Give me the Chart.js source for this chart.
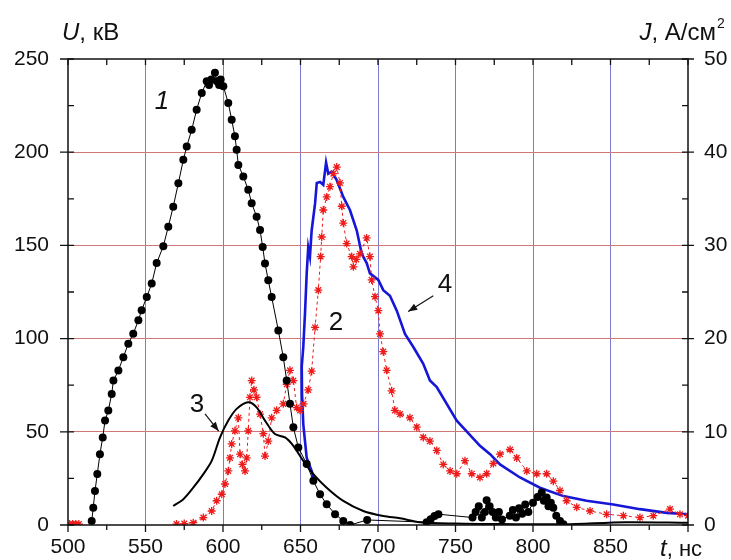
<!DOCTYPE html>
<html>
<head>
<meta charset="utf-8">
<script src="https://cdn.jsdelivr.net/npm/chart.js@4.4.1/dist/chart.umd.min.js"></script>
<style>
  html, body { margin: 0; padding: 0; background: #fff; }
  #wrap { width: 731px; height: 560px; position: relative; }
</style>
</head>
<body>
<div id="wrap"><canvas id="chart"></canvas></div>
<script>
// curve 1: voltage U, kV (black dots)
const t1 = [515.3, 516.3, 517.4, 518.9, 520.6, 522.4, 523.9, 526, 528.2, 529.3, 532.5, 535.7, 538.9, 542.1,
  545.4, 547.5, 550.8, 554, 557.2, 561.5, 564.7, 567.9, 571.2, 574.4, 576.6, 579.8, 583, 586.3, 589.5, 591,
  592.5, 594.8, 596, 597.5, 598.5, 600.2, 603.4, 605.6, 607.7, 608.8, 609.9, 613.1, 616.3, 618.5, 621.7,
  623.9, 625.6, 627.1, 629.2, 631.4, 635.7, 638.9, 641.1, 643.2, 645.4, 648.6, 654, 658.3, 662.6, 666.9,
  672.3, 677.6, 682, 693, 731.4, 734, 736.5, 739, 761, 763, 765, 767, 769, 770.1, 772, 774, 776, 778, 780,
  785, 787, 789, 791, 793, 795, 797, 800, 803, 805.6, 807, 808.8, 810, 811.5, 813.1, 815, 817.4, 819.6];
const U1 = [2.2, 9.3, 18.3, 27.3, 38, 47, 56, 61.4, 70.3, 77.5, 82.9, 90, 97.3, 102.6,
  109.8, 115.2, 122.3, 129.5, 140.5, 149.6, 160, 170.8, 183.4, 195.9, 203, 212, 222.8, 231.8, 238, 236,
  239, 242.6, 238, 236, 239, 235.4, 226.4, 217.4, 208.5, 201.3, 193.2, 187, 179.8, 172.6, 165.4,
  158.2, 149.2, 140.3, 131.3, 122.3, 104.4, 90, 77.5, 65, 52.4, 41.6, 32.7, 23.7, 16.5, 11.1,
  5.8, 2.2, 0, 2.7, 1.5, 3.1, 4.8, 5.8, 4, 7, 10, 4, 7, 13.3, 10, 7, 4, 7, 3,
  5, 8, 4, 9, 6, 11, 7, 12, 15, 17.4, 13, 14.7, 10, 12, 9.3, 5, 2.2, 0.4];

// curve 2: current density J, A/cm2 (red stars)
const t2start = [501, 503, 505, 507];
const J2start = [0.1, 0.1, 0.1, 0.1];
const t2 = [570, 575, 580.8, 587.3, 592.7, 595.9, 599.2, 601.3, 603.4, 604.5, 605.6, 607.7, 609.9, 611,
  612.5, 614.2, 615.3, 616.3, 617.4, 618.5, 620, 621.7, 623.9, 626, 627.1, 629.2, 631.4, 634.6, 638.9,
  641.1, 643.2, 645.4, 647.5, 649.7, 652, 655, 657.2, 659.4, 661.5, 663, 663.7, 664.7, 666.9, 669, 671.2,
  673.4, 675.5, 676.6, 677.6, 679.8, 683, 684.1, 686, 688.4, 692.7, 694.8, 695.9, 698.1, 700.2, 701.3,
  703.4, 705.6, 708.8, 710.9, 714.2, 720.6, 725, 729.2, 733.5, 737.9, 742.1, 746.5, 750.8, 756.1, 760.5,
  765.8, 770.1, 774.4, 778.7, 785.2, 789.5, 796, 802.4, 808.8, 813.1, 817.4, 821.7, 828.2, 836.8, 847.5,
  858.3, 869, 877.6, 888.4, 894.8, 900];
const J2 = [0.1, 0.15, 0.25, 0.8, 1.5, 2.6, 3.3, 4.4, 5.8, 7.2, 8.7, 10.1, 11.5, 7.6,
  6.5, 5.8, 7.2, 10.1, 13.7, 15.5, 14.5, 13.7, 11.9, 9.8, 7.4, 9.0, 11.5, 12.3, 13,
  15.1, 16.6, 15.5, 12.6, 12.3, 13, 14.5, 16.5, 21.2, 25.2, 28.8, 30.9, 33.8, 35.2, 36.3, 37.7,
  38.4, 36.7, 34.2, 32.4, 30.2, 28.8, 27.7, 28.5, 29.1, 30.8, 28.8, 26.3, 24.5, 23, 20.5,
  18.6, 16.6, 14.4, 12.3, 11.9, 11.5, 10.5, 9.4, 9.0, 8.0, 6.5, 5.8, 5.5, 6.9, 5.5,
  5.1, 5.5, 6.6, 7.6, 8.1, 7.2, 5.8, 5.5, 5.5, 4.7, 3.7, 2.6, 1.9, 1.5, 1.15,
  1.0, 0.8, 1.0, 1.7, 1.15, 1.0];

// curve 3: black line (kV scale)
const t3 = [567.9, 574.4, 580.8, 587.3, 592.7, 598.1, 603.4, 608.8, 616.3, 621.7, 627.1, 633.5, 640, 645.4,
  651.8, 658.3, 666.9, 677.6, 690.5, 703.4, 714.2, 727, 750, 780, 820, 860, 900];
const U3 = [10.2, 13.8, 20, 27.3, 34.4, 47, 56, 62.3, 65.8, 63.1, 56, 48.8, 47, 42.5,
  34.4, 27.3, 20, 12.9, 7.5, 4.8, 3.6, 1.5, 0.8, 0.5, 0.4, 1.5, 1.2];

// curve 4: blue line (A/cm2 scale)
const t4 = [659.5, 657.2, 654, 651.8, 651, 650.8, 651.8, 652.9, 654, 655, 656.1, 657.2, 659.4, 660.5,
  662.6, 664.7, 666.5, 667.9, 670.1, 673.4, 677.6, 681.9, 686.3, 689.5, 692.7, 694.8, 700.2, 703.4, 707.7,
  712.1, 717.4, 722.8, 729.2, 733.5, 737.9, 750.8, 765.8, 772.3, 778.7, 791.6, 804.5, 819.6, 834.6, 851.8,
  869, 886.3, 900];
const J4 = [4.5, 5.8, 7.2, 10.8, 14, 17, 19.1, 22.7, 27, 29.8, 28.8, 31.6, 34.5, 36.7,
  36.8, 36.5, 38.9, 37.7, 37.9, 37, 35.2, 33.8, 31.6, 29.1, 28.1, 27, 26.3, 25.2, 24.6,
  23, 20.5, 19.1, 17.3, 15.5, 14.8, 11.2, 8.5, 7.6, 6.5, 5.1, 4.0, 3.1, 2.6, 2.2,
  1.7, 1.3, 1.15];

// tick labels
const xTicks = [500, 550, 600, 650, 700, 750, 800, 850];
const uTicks = [0, 50, 100, 150, 200, 250];
const jTicks = [0, 10, 20, 30, 40, 50];

const pts = (xs, ys) => xs.map((x, i) => ({x: x, y: ys[i]}));

const FONT = "'Liberation Sans', Arial, sans-serif";
Chart.defaults.font.family = FONT;
Chart.defaults.color = '#111';

// curve numbers and arrows, in data units
const notes = [
  {text: '1', x: 560.6, y: 227, axis: 'y', italic: true},
  {text: '2', x: 672.9, y: 21.7, axis: 'y2'},
  {text: '3', x: 583.2, y: 64.6, axis: 'y'},
  {text: '4', x: 743.2, y: 25.8, axis: 'y2'}
];
const arrows = [
  {x1: 588.4, y1: 59.6, x2: 597.2, y2: 50.4, axis: 'y'},
  {x1: 735.7, y1: 24.6, x2: 719.5, y2: 22.9, axis: 'y2'}
];

const decor = {
  id: 'decor',
  afterDraw(chart) {
    const ctx = chart.ctx;
    const a = chart.chartArea;
    const xs = chart.scales.x, ys = chart.scales.y, ys2 = chart.scales.y2;
    ctx.save();
    ctx.strokeStyle = '#111';
    ctx.lineWidth = 1.5;
    ctx.strokeRect(a.left, a.top, a.right - a.left, a.bottom - a.top);
    ctx.lineWidth = 1.3;
    ctx.beginPath();
    for (let v = 500; v <= 900; v += 25) {
      const p = xs.getPixelForValue(v);
      const major = v % 50 === 0;
      ctx.moveTo(p, a.bottom); ctx.lineTo(p, a.bottom + (major ? 7 : 5));
      ctx.moveTo(p, a.top); ctx.lineTo(p, a.top + 6);
    }
    for (let v = 0; v <= 250; v += 25) {
      const p = ys.getPixelForValue(v);
      ctx.moveTo(a.left, p); ctx.lineTo(a.left + 6, p);
      if (v % 50 === 0) { ctx.moveTo(a.left, p); ctx.lineTo(a.left - 8, p); }
    }
    for (let v = 0; v <= 50; v += 5) {
      const p = ys2.getPixelForValue(v);
      ctx.moveTo(a.right, p); ctx.lineTo(a.right - 6, p);
      if (v % 10 === 0) { ctx.moveTo(a.right, p); ctx.lineTo(a.right + 6, p); }
    }
    ctx.stroke();

    // axis titles
    ctx.fillStyle = '#111';
    ctx.textBaseline = 'alphabetic';
    ctx.textAlign = 'left';
    ctx.font = 'italic 24px ' + FONT;
    ctx.fillText('U', 62, 40);
    let w = ctx.measureText('U').width;
    ctx.font = '24px ' + FONT;
    ctx.fillText(', кВ', 62 + w, 40);

    ctx.font = 'italic 24px ' + FONT;
    const jw = ctx.measureText('J').width;
    ctx.font = '24px ' + FONT;
    const rw = ctx.measureText(', А/см').width;
    let jx = 716 - jw - rw;
    ctx.font = 'italic 24px ' + FONT;
    ctx.fillText('J', jx, 40);
    ctx.font = '24px ' + FONT;
    ctx.fillText(', А/см', jx + jw, 40);
    ctx.font = '14px ' + FONT;
    ctx.fillText('2', jx + jw + rw + 1, 28);

    ctx.font = 'italic 24px ' + FONT;
    ctx.fillText('t', 660, 556);
    w = ctx.measureText('t').width;
    ctx.font = '22px ' + FONT;
    ctx.fillText(', нс', 660 + w, 556);

    // curve labels
    ctx.textAlign = 'center';
    ctx.textBaseline = 'middle';
    notes.forEach(n => {
      ctx.font = (n.italic ? 'italic ' : '') + '26px ' + FONT;
      ctx.fillText(n.text, xs.getPixelForValue(n.x), chart.scales[n.axis].getPixelForValue(n.y));
    });
    ctx.lineWidth = 1.2;
    arrows.forEach(r => {
      const sc = chart.scales[r.axis];
      const x1 = xs.getPixelForValue(r.x1), y1 = sc.getPixelForValue(r.y1);
      const x2 = xs.getPixelForValue(r.x2), y2 = sc.getPixelForValue(r.y2);
      const ang = Math.atan2(y2 - y1, x2 - x1);
      ctx.beginPath(); ctx.moveTo(x1, y1); ctx.lineTo(x2, y2); ctx.stroke();
      ctx.beginPath();
      ctx.moveTo(x2, y2);
      ctx.lineTo(x2 - 9 * Math.cos(ang) + 3.5 * Math.sin(ang), y2 - 9 * Math.sin(ang) - 3.5 * Math.cos(ang));
      ctx.lineTo(x2 - 9 * Math.cos(ang) - 3.5 * Math.sin(ang), y2 - 9 * Math.sin(ang) + 3.5 * Math.cos(ang));
      ctx.closePath(); ctx.fill();
    });
    ctx.restore();
  }
};

const starStyle = {
  pointStyle: 'star', pointRadius: 4, pointBorderWidth: 1.3,
  pointBorderColor: '#ee1b1b', pointBackgroundColor: '#ee1b1b'
};

new Chart(document.getElementById('chart'), {
  type: 'scatter',
  data: {
    datasets: [
      {
        label: '1', data: pts(t1, U1), yAxisID: 'y', order: 0, showLine: true,
        borderColor: '#000', borderWidth: 1, pointRadius: 4,
        pointBackgroundColor: '#000', pointBorderColor: '#000', pointBorderWidth: 0
      },
      {
        label: '3', data: pts(t3, U3), yAxisID: 'y', order: 1, showLine: true,
        borderColor: '#000', borderWidth: 2, pointRadius: 0, tension: 0.3
      },
      Object.assign({
        label: '2', data: pts(t2, J2), yAxisID: 'y2', order: 2, showLine: true,
        borderColor: '#ee1b1b', borderWidth: 1, borderDash: [3, 3]
      }, starStyle),
      Object.assign({
        label: '2a', data: pts(t2start, J2start), yAxisID: 'y2', order: 2, showLine: false
      }, starStyle),
      {
        label: '4', data: pts(t4, J4), yAxisID: 'y2', order: 3, showLine: true,
        borderColor: '#1616d8', borderWidth: 2.6, pointRadius: 0
      }
    ]
  },
  options: {
    responsive: true,
    maintainAspectRatio: false,
    animation: false,
    layout: {padding: {top: 59, left: 0, right: 0, bottom: 0}},
    plugins: {legend: {display: false}, tooltip: {enabled: false}},
    scales: {
      x: {
        type: 'linear', min: 500, max: 900,
        afterFit: s => { s.height = 35; },
        border: {display: false},
        grid: {
          drawTicks: false,
          color: c => (c.tick.value > 500 && c.tick.value < 900) ? '#7b7bd6' : 'rgba(0,0,0,0)',
          lineWidth: 1
        },
        ticks: {
          stepSize: 50, padding: 10, maxRotation: 0,
          font: {size: 21},
          callback: v => xTicks.includes(v) ? String(v) : ''
        }
      },
      y: {
        type: 'linear', position: 'left', min: 0, max: 250,
        afterFit: s => { s.width = 68; },
        border: {display: false},
        grid: {
          drawTicks: false,
          color: c => (c.tick.value > 0 && c.tick.value < 250) ? '#d07878' : 'rgba(0,0,0,0)',
          lineWidth: 1
        },
        ticks: {
          stepSize: 50, padding: 19, font: {size: 21},
          callback: v => uTicks.includes(v) ? String(v) : ''
        }
      },
      y2: {
        type: 'linear', position: 'right', min: 0, max: 50,
        afterFit: s => { s.width = 43; },
        border: {display: false},
        grid: {display: false, drawTicks: false},
        ticks: {
          stepSize: 10, padding: 16, font: {size: 21},
          callback: v => jTicks.includes(v) ? String(v) : ''
        }
      }
    }
  },
  plugins: [decor]
});
</script>
</body>
</html>
